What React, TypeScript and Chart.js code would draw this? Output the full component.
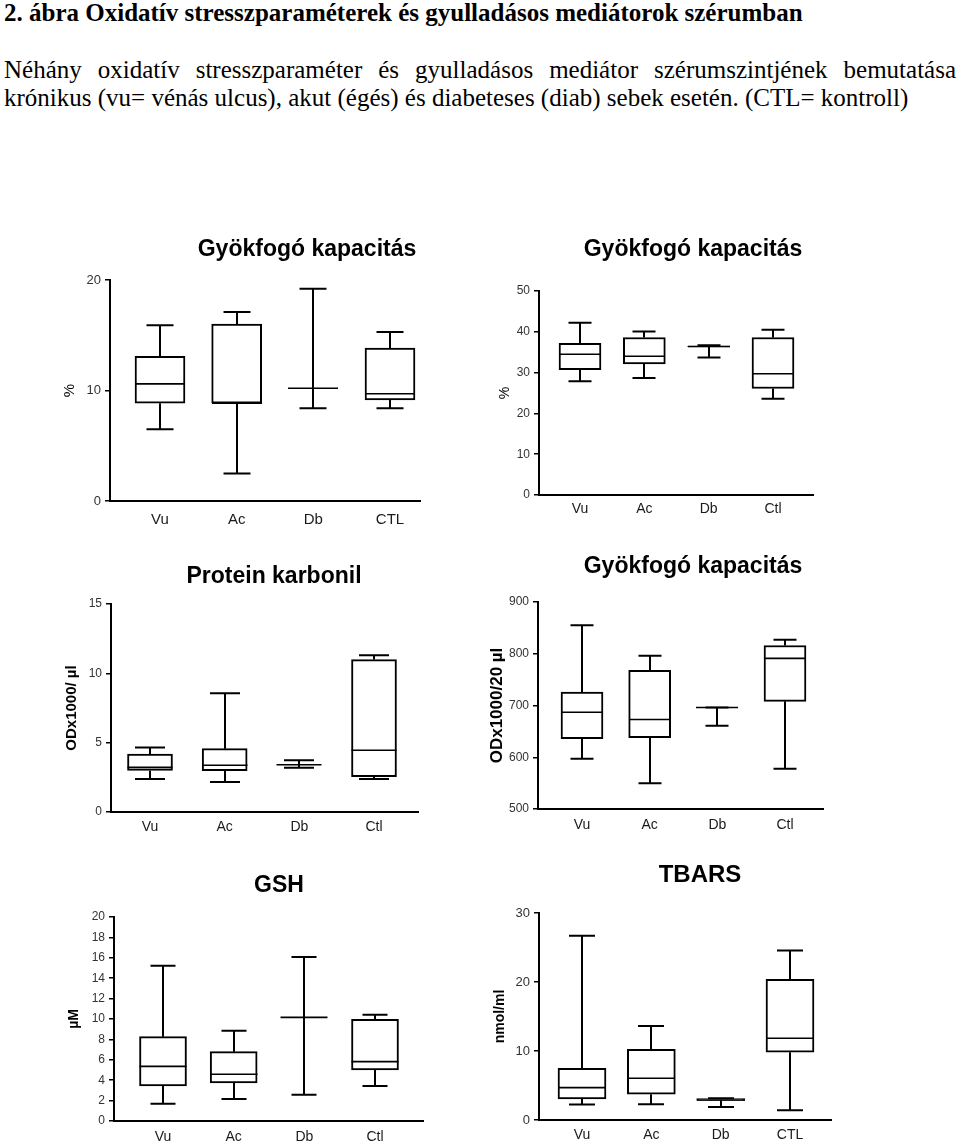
import React, { useEffect, useRef } from "react";
import { Chart, registerables } from "chart.js";

Chart.register(...registerables);
Chart.defaults.font.family = '"Liberation Sans", Arial, sans-serif';

// ---------- DATA ----------
const labelsCTL = ["Vu", "Ac", "Db", "CTL"];
const labelsCtl = ["Vu", "Ac", "Db", "Ctl"];

// Panel 1: Gyökfogó kapacitás (%)
const scav1Min = [6.5, 2.5, 8.4, 8.4];
const scav1Q1 = [8.85, 8.85, 10.2, 9.15];
const scav1Median = [10.6, 8.85, 10.2, 9.7];
const scav1Q3 = [13.1, 16.0, 10.2, 13.85];
const scav1Max = [15.9, 17.1, 19.2, 15.3];
const scav1Ticks = [0, 10, 20];

// Panel 2: Gyökfogó kapacitás (%)
const scav2Min = [27.9, 28.7, 33.7, 23.6];
const scav2Q1 = [30.7, 32.1, 36.3, 26.1];
const scav2Median = [34.5, 34.0, 36.4, 29.7];
const scav2Q3 = [37.2, 38.6, 36.5, 38.6];
const scav2Max = [42.2, 40.1, 36.7, 40.5];
const scav2Ticks = [0, 10, 20, 30, 40, 50];

// Panel 3: Protein karbonil (ODx1000/ µl)
const carbMin = [2.38, 2.16, 3.2, 2.38];
const carbQ1 = [3.0, 2.98, 3.41, 2.55];
const carbMedian = [3.22, 3.37, 3.41, 4.45];
const carbQ3 = [4.18, 4.57, 3.41, 10.99];
const carbMax = [4.66, 8.56, 3.73, 11.3];
const carbTicks = [0, 5, 10, 15];

// Panel 4: Gyökfogó kapacitás (ODx1000/20 µl)
const scav3Min = [597, 550, 661, 578];
const scav3Q1 = [636, 638, 696, 708];
const scav3Median = [687, 673, 696, 791];
const scav3Q3 = [726, 768, 696, 816];
const scav3Max = [855, 796, 696, 827];
const scav3Ticks = [500, 600, 700, 800, 900];

// Panel 5: GSH (µM)
const gshMin = [1.7, 2.16, 2.58, 3.43];
const gshQ1 = [3.43, 3.73, 10.16, 5.0];
const gshMedian = [5.36, 4.58, 10.16, 5.82];
const gshQ3 = [8.27, 6.8, 10.16, 9.97];
const gshMax = [15.23, 8.86, 16.08, 10.42];
const gshTicks = [0, 2, 4, 6, 8, 10, 12, 14, 16, 18, 20];

// Panel 6: TBARS (nmol/ml)
const tbarsMin = [2.23, 2.27, 1.89, 1.4];
const tbarsQ1 = [3.05, 3.73, 2.85, 9.82];
const tbarsMedian = [4.69, 6.05, 2.9, 11.85];
const tbarsQ3 = [7.5, 10.26, 3.1, 20.37];
const tbarsMax = [26.7, 13.64, 3.15, 24.58];
const tbarsTicks = [0, 10, 20, 30];

// ---------- PANELS ----------
type Geom = {
  L: number; R: number; T: number; B: number;
  c1: number; cN: number;
  tx: number; ty: number; titleSize: number; titleWeight: string;
  yTitleX: number; yTitleSize: number; yTitleWeight: string;
  tickSize: number; xSize: number; xLabelY: number;
  boxW: number; capW: number;
};

type Panel = {
  title: string;
  yTitle: string;
  labels: string[];
  min: number[]; q1: number[]; med: number[]; q3: number[]; max: number[];
  ticks: number[];
  g: Geom;
};

const panels: Panel[] = [
  {
    title: "Gyökfogó kapacitás", yTitle: "%", labels: labelsCTL,
    min: scav1Min, q1: scav1Q1, med: scav1Median, q3: scav1Q3, max: scav1Max, ticks: scav1Ticks,
    g: { L: 110, R: 420, T: 280, B: 501, c1: 160, cN: 390, tx: 307, ty: 250, titleSize: 23, titleWeight: "bold",
      yTitleX: 70, yTitleSize: 15, yTitleWeight: "normal", tickSize: 13, xSize: 15, xLabelY: 520, boxW: 50, capW: 27 },
  },
  {
    title: "Gyökfogó kapacitás", yTitle: "%", labels: labelsCtl,
    min: scav2Min, q1: scav2Q1, med: scav2Median, q3: scav2Q3, max: scav2Max, ticks: scav2Ticks,
    g: { L: 539, R: 813, T: 291, B: 495, c1: 580, cN: 773, tx: 693, ty: 250, titleSize: 23, titleWeight: "bold",
      yTitleX: 505, yTitleSize: 14, yTitleWeight: "normal", tickSize: 12, xSize: 14, xLabelY: 509, boxW: 42, capW: 23 },
  },
  {
    title: "Protein karbonil", yTitle: "ODx1000/ µl", labels: labelsCtl,
    min: carbMin, q1: carbQ1, med: carbMedian, q3: carbQ3, max: carbMax, ticks: carbTicks,
    g: { L: 111, R: 418, T: 604, B: 812, c1: 150, cN: 374, tx: 274, ty: 577, titleSize: 23, titleWeight: "bold",
      yTitleX: 72, yTitleSize: 15, yTitleWeight: "bold", tickSize: 12, xSize: 14, xLabelY: 827, boxW: 45, capW: 30 },
  },
  {
    title: "Gyökfogó kapacitás", yTitle: "ODx1000/20 µl", labels: labelsCtl,
    min: scav3Min, q1: scav3Q1, med: scav3Median, q3: scav3Q3, max: scav3Max, ticks: scav3Ticks,
    g: { L: 538, R: 823, T: 602, B: 809, c1: 582, cN: 785, tx: 693, ty: 567, titleSize: 23, titleWeight: "bold",
      yTitleX: 497, yTitleSize: 17, yTitleWeight: "bold", tickSize: 12, xSize: 14, xLabelY: 825, boxW: 42, capW: 23 },
  },
  {
    title: "GSH", yTitle: "µM", labels: labelsCtl,
    min: gshMin, q1: gshQ1, med: gshMedian, q3: gshQ3, max: gshMax, ticks: gshTicks,
    g: { L: 114, R: 423, T: 917, B: 1121, c1: 163, cN: 375, tx: 279, ty: 886, titleSize: 23, titleWeight: "bold",
      yTitleX: 74, yTitleSize: 14, yTitleWeight: "bold", tickSize: 12, xSize: 14, xLabelY: 1137, boxW: 47, capW: 25 },
  },
  {
    title: "TBARS", yTitle: "nmol/ml", labels: labelsCTL,
    min: tbarsMin, q1: tbarsQ1, med: tbarsMedian, q3: tbarsQ3, max: tbarsMax, ticks: tbarsTicks,
    g: { L: 539, R: 831, T: 913, B: 1120, c1: 582, cN: 790, tx: 700, ty: 875, titleSize: 24, titleWeight: "bold",
      yTitleX: 500, yTitleSize: 14, yTitleWeight: "bold", tickSize: 13, xSize: 14, xLabelY: 1135, boxW: 48, capW: 26 },
  },
];

const YW = 70; // y-axis box width
const TH = 70; // space above plot
const XH = 36; // x-axis box height
const RP = 20; // right padding

function BoxPanel({ p }: { p: Panel }) {
  const ref = useRef<HTMLCanvasElement | null>(null);
  const g = p.g;
  const left = g.L - YW;
  const top = g.T - TH;
  const width = YW + (g.R - g.L) + RP;
  const height = TH + (g.B - g.T) + XH;

  useEffect(() => {
    if (!ref.current) return;
    const n = p.labels.length;
    const sp = (g.cN - g.c1) / (n - 1);
    const xMin = 1 - (g.c1 - g.L) / sp;
    const xMax = n + (g.R - g.cN) / sp;

    const whiskers = {
      id: "boxWhiskers",
      afterDatasetsDraw(chart: any) {
        const { ctx, scales } = chart;
        const xs = scales.x;
        const ys = scales.y;
        ctx.save();
        ctx.strokeStyle = "#000";
        ctx.lineCap = "butt";
        for (let i = 0; i < n; i++) {
          const cx = Math.round(xs.getPixelForValue(i + 1));
          const yMin = ys.getPixelForValue(p.min[i]);
          const yQ1 = ys.getPixelForValue(p.q1[i]);
          const yMed = ys.getPixelForValue(p.med[i]);
          const yQ3 = ys.getPixelForValue(p.q3[i]);
          const yMax = ys.getPixelForValue(p.max[i]);
          ctx.lineWidth = 2;
          ctx.beginPath();
          ctx.moveTo(cx, yQ3);
          ctx.lineTo(cx, yMax);
          ctx.moveTo(cx - g.capW / 2, yMax);
          ctx.lineTo(cx + g.capW / 2, yMax);
          ctx.moveTo(cx, yQ1);
          ctx.lineTo(cx, yMin);
          ctx.moveTo(cx - g.capW / 2, yMin);
          ctx.lineTo(cx + g.capW / 2, yMin);
          ctx.stroke();
          ctx.lineWidth = 1.6;
          ctx.beginPath();
          ctx.moveTo(cx - g.boxW / 2, yMed);
          ctx.lineTo(cx + g.boxW / 2, yMed);
          ctx.stroke();
        }
        ctx.restore();
      },
    };

    const panelTitle = {
      id: "panelTitle",
      afterDraw(chart: any) {
        const ctx = chart.ctx;
        ctx.save();
        ctx.fillStyle = "#000";
        ctx.font = `${g.titleWeight} ${g.titleSize}px "Liberation Sans", Arial, sans-serif`;
        ctx.textAlign = "center";
        ctx.textBaseline = "middle";
        ctx.fillText(p.title, g.tx - left, g.ty - top);
        ctx.restore();
      },
    };

    const chart = new Chart(ref.current, {
      type: "bar",
      data: {
        datasets: [
          {
            data: p.labels.map((_, i) => ({ x: i + 1, y: [p.q1[i], p.q3[i]] })) as any,
            backgroundColor: "#ffffff",
            borderColor: "#000000",
            borderWidth: 2,
            borderSkipped: false,
            barThickness: g.boxW,
          },
        ],
      },
      options: {
        responsive: false,
        animation: false,
        events: [],
        layout: { padding: { top: TH, right: RP, left: 0, bottom: 0 } },
        plugins: { legend: { display: false }, tooltip: { enabled: false }, title: { display: false } },
        scales: {
          x: {
            type: "linear",
            min: xMin,
            max: xMax,
            offset: false,
            afterBuildTicks: (s: any) => {
              s.ticks = p.labels.map((_, i) => ({ value: i + 1 }));
            },
            ticks: {
              callback: (v: any) => p.labels[Math.round(Number(v)) - 1] ?? "",
              font: { size: g.xSize },
              color: "#1a1a1a",
              padding: g.xLabelY - g.B - 0.6 * g.xSize,
              autoSkip: false,
              maxRotation: 0,
            },
            grid: { display: false, drawTicks: false, offset: false },
            border: { display: true, color: "#000", width: 2 },
            afterFit: (s: any) => {
              s.height = XH;
            },
          },
          y: {
            type: "linear",
            min: p.ticks[0],
            max: p.ticks[p.ticks.length - 1],
            afterBuildTicks: (s: any) => {
              s.ticks = p.ticks.map((v) => ({ value: v }));
            },
            ticks: { font: { size: g.tickSize }, color: "#333", padding: 4 },
            grid: { display: true, drawOnChartArea: false, drawTicks: true, tickLength: 5, color: "#000", lineWidth: 1.5 },
            border: { display: true, color: "#000", width: 2 },
            title: {
              display: true,
              text: p.yTitle,
              color: "#000",
              font: { size: g.yTitleSize, weight: g.yTitleWeight as any },
              padding: { top: g.yTitleX - left - 0.6 * g.yTitleSize, bottom: 0 },
            },
            afterFit: (s: any) => {
              s.width = YW;
            },
          },
        },
      },
      plugins: [whiskers, panelTitle],
    } as any);
    return () => chart.destroy();
  }, []);

  return (
    <canvas
      ref={ref}
      width={width}
      height={height}
      style={{ position: "absolute", left, top, width, height }}
    />
  );
}

const serif = '"Liberation Serif", "Times New Roman", serif';

export default function App() {
  return (
    <div style={{ position: "absolute", left: 0, top: 0, width: 960, height: 1142, background: "#fff", overflow: "hidden" }}>
      <div style={{ position: "absolute", left: 4, top: -1, fontFamily: serif, fontWeight: "bold", fontSize: 25, lineHeight: "28px", whiteSpace: "nowrap", color: "#000" }}>
        2. ábra Oxidatív stresszparaméterek és gyulladásos mediátorok szérumban
      </div>
      <div style={{ position: "absolute", left: 4, top: 56, width: 952, fontFamily: serif, fontSize: 25, lineHeight: "28px", textAlign: "justify", textAlignLast: "justify", whiteSpace: "nowrap", color: "#000" } as any}>
        Néhány oxidatív stresszparaméter és gyulladásos mediátor szérumszintjének bemutatása
      </div>
      <div style={{ position: "absolute", left: 4, top: 84, fontFamily: serif, fontSize: 25, lineHeight: "28px", whiteSpace: "nowrap", color: "#000" }}>
        krónikus (vu= vénás ulcus), akut (égés) és diabeteses (diab) sebek esetén. (CTL= kontroll)
      </div>
      {panels.map((p, i) => (
        <BoxPanel key={i} p={p} />
      ))}
    </div>
  );
}
